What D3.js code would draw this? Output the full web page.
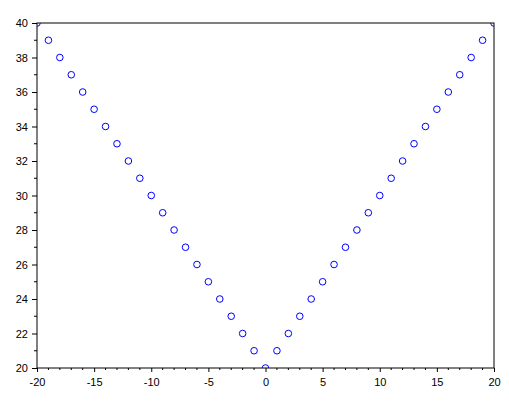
<!DOCTYPE html>
<html><head><meta charset="utf-8">
<script src="https://cdn.jsdelivr.net/npm/d3@7"></script>
<style>body{margin:0;background:#fff}svg{display:block}text{font-family:"Liberation Sans",Arial,sans-serif;font-size:11px;fill:#000}</style>
</head><body>
<script>
const xValues = [-20,-19,-18,-17,-16,-15,-14,-13,-12,-11,-10,-9,-8,-7,-6,-5,-4,-3,-2,-1,0,1,2,3,4,5,6,7,8,9,10,11,12,13,14,15,16,17,18,19,20];
const yValues = [40,39,38,37,36,35,34,33,32,31,30,29,28,27,26,25,24,23,22,21,20,21,22,23,24,25,26,27,28,29,30,31,32,33,34,35,36,37,38,39,40];
const xTicks = [-20,-15,-10,-5,0,5,10,15,20];
const yTicks = [20,22,24,26,28,30,32,34,36,38,40];

const W=509,H=403, L=37, R=494, T=23, B=368;
const svg=d3.select("body").append("svg").attr("width",W).attr("height",H);
const x=d3.scaleLinear().domain([-20,20]).range([L,R]);
const y=d3.scaleLinear().domain([20,40]).range([B,T]);

svg.append("defs").append("clipPath").attr("id","c").append("rect").attr("x",L).attr("y",T).attr("width",R-L).attr("height",B-T);

// frame
svg.append("rect").attr("x",L).attr("y",T).attr("width",R-L).attr("height",B-T).attr("fill","none").attr("stroke","#000").attr("stroke-width",1);

// x axis
const xa=svg.append("g").attr("transform",`translate(0,${B})`).call(d3.axisBottom(x).tickValues(xTicks).tickSize(4).tickSizeOuter(0).tickFormat(d=>String(d)));
xa.select(".domain").remove();
xa.selectAll("text").attr("dy","0.95em").attr("y",8);
const xMinor=d3.range(-20,21,1).filter(v=>v%5!==0);
svg.append("g").selectAll("line").data(xMinor).join("line").attr("x1",d=>x(d)).attr("x2",d=>x(d)).attr("y1",B).attr("y2",B+2).attr("stroke","#000");

// y axis
const ya=svg.append("g").attr("transform",`translate(${L},0)`).call(d3.axisLeft(y).tickValues(yTicks).tickSize(5).tickSizeOuter(0).tickFormat(d=>String(d)));
ya.select(".domain").remove();
ya.selectAll("text").attr("x",-9);
const yMinor=d3.range(21,40,2);
svg.append("g").selectAll("line").data(yMinor).join("line").attr("x1",L-3).attr("x2",L).attr("y1",d=>y(d)).attr("y2",d=>y(d)).attr("stroke","#000");

// points
svg.append("g").attr("clip-path","url(#c)").selectAll("circle").data(xValues.map((v,i)=>[v,yValues[i]])).join("circle")
 .attr("cx",d=>x(d[0])).attr("cy",d=>y(d[1])).attr("r",3.3).attr("fill","none").attr("stroke","#0000ff").attr("stroke-width",1);
</script>
</body></html>
